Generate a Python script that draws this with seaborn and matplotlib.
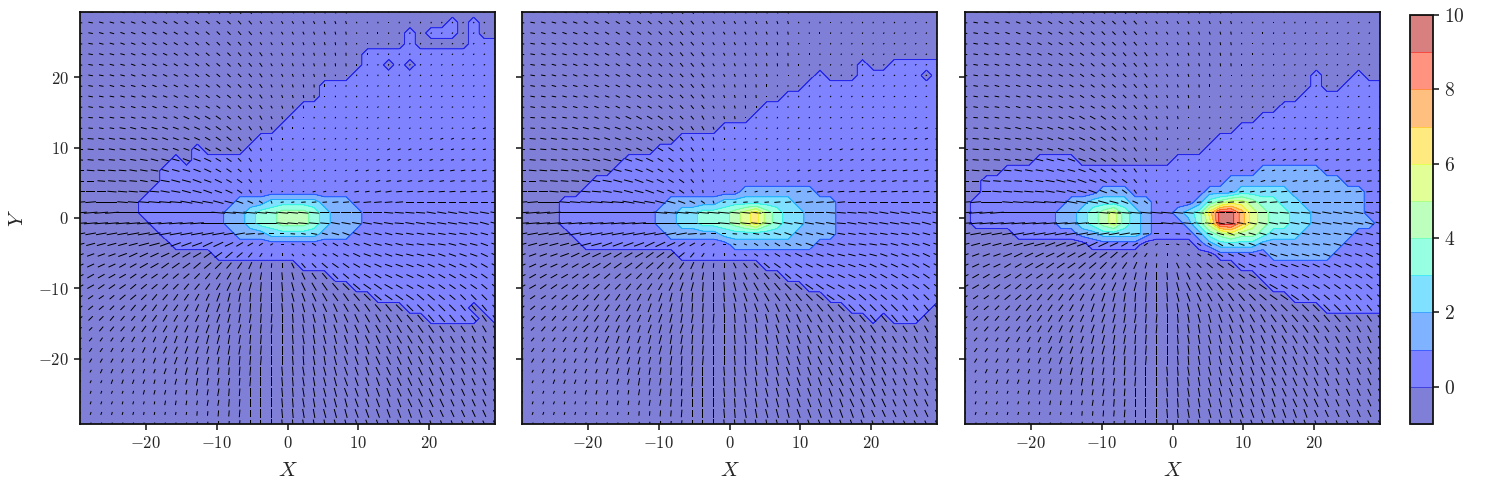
import numpy as np
import matplotlib
matplotlib.use("Agg")
import matplotlib.pyplot as plt
import seaborn as sns

# grid of the field, 40 x 40 cells, top row first
x_nodes = [-29.25 + 1.5 * i for i in range(40)]
y_nodes = [29.25 - 1.5 * i for i in range(40)]

levels = [-1, 0, 1, 2, 3, 4, 5, 6, 7, 8, 9, 10]
axis_ticks = [-20, -10, 0, 10, 20]
axis_labels = ["$-20$", "$-10$", "$0$", "$10$", "$20$"]
cbar_ticks = [0, 2, 4, 6, 8, 10]
cbar_labels = ["$0$", "$2$", "$4$", "$6$", "$8$", "$10$"]

# density: "." is below 0, a digit d means between d and d+1
density_1 = [
    ".......... .......... .......... ..........",
    ".......... .......... .......... .....0.0..",
    ".......... .......... .......... .0.000.0..",
    ".......... .......... .......... .0.....000",
    ".......... .......... .......000 0000000000",
    ".......... .......... .......00. 0.00000000",
    ".......... .......... ......0000 0000000000",
    ".......... .......... ...0000000 0000000000",
    ".......... .......... ...0000000 0000000000",
    ".......... .......... .000000000 0000000000",
    ".......... .......... 0000000000 0000000000",
    ".......... .........0 0000000000 0000000000",
    ".......... .......000 0000000000 0000000000",
    ".......... .0....0000 0000000000 0000000000",
    ".........0 .000000000 0000000000 0000000000",
    "........00 0000000000 0000000000 0000000000",
    "........00 0000000000 0000000000 0000000000",
    ".......000 0000000000 0000000000 0000000000",
    "......0000 0000011122 2221110000 0000000000",
    "......0000 0000112334 4432111000 0000000000",
    ".......000 0000112334 4432111000 0000000000",
    "........00 0000011122 2221110000 0000000000",
    ".........0 0000000000 0000000000 0000000000",
    ".......... ...0000000 0000000000 0000000000",
    ".......... .......... .000000000 0000000000",
    ".......... .......... ....000000 0000000000",
    ".......... .......... ......0000 0000000000",
    ".......... .......... ........00 0000000000",
    ".......... .......... .......... .000000.00",
    ".......... .......... .......... ...00000.0",
    ".......... .......... .......... ..........",
    ".......... .......... .......... ..........",
    ".......... .......... .......... ..........",
    ".......... .......... .......... ..........",
    ".......... .......... .......... ..........",
    ".......... .......... .......... ..........",
    ".......... .......... .......... ..........",
    ".......... .......... .......... ..........",
    ".......... .......... .......... ..........",
    ".......... .......... .......... ..........",
]
density_2 = [
    ".......... .......... .......... ..........",
    ".......... .......... .......... ..........",
    ".......... .......... .......... ..........",
    ".......... .......... .......... ..........",
    ".......... .......... .......... ..........",
    ".......... .......... .......... ..0..00000",
    ".......... .......... ........0. ..000000.0",
    ".......... .......... .......000 0000000000",
    ".......... .......... .....00000 0000000000",
    ".......... .......... ...0000000 0000000000",
    ".......... .......... ..00000000 0000000000",
    ".......... .........0 0000000000 0000000000",
    ".......... .....00000 0000000000 0000000000",
    ".......... ...0000000 0000000000 0000000000",
    ".......... 0000000000 0000000000 0000000000",
    ".........0 0000000000 0000000000 0000000000",
    ".......000 0000000000 0000000000 0000000000",
    "......0000 0000000000 0111111100 0000000000",
    "....000000 0000111112 2222221111 0000000000",
    "....000000 0001122333 4564322111 0000000000",
    "....000000 0001122333 4564322111 0000000000",
    ".....00000 0000111112 2222221111 0000000000",
    "......0000 0000000000 1111111100 0000000000",
    ".......... .....00000 0000000000 0000000000",
    ".......... .......... ...0000000 0000000000",
    ".......... .......... .....00000 0000000000",
    ".......... .......... .......000 0000000000",
    ".......... .......... .........0 0000000000",
    ".......... .......... .......... .00000000.",
    ".......... .......... .......... ...0.000..",
    ".......... .......... .......... ..........",
    ".......... .......... .......... ..........",
    ".......... .......... .......... ..........",
    ".......... .......... .......... ..........",
    ".......... .......... .......... ..........",
    ".......... .......... .......... ..........",
    ".......... .......... .......... ..........",
    ".......... .......... .......... ..........",
    ".......... .......... .......... ..........",
    ".......... .......... .......... ..........",
]
density_3 = [
    ".......... .......... .......... ..........",
    ".......... .......... .......... ..........",
    ".......... .......... .......... ..........",
    ".......... .......... .......... ..........",
    ".......... .......... .......... ..........",
    ".......... .......... .......... ..........",
    ".......... .......... .......... ...0...0..",
    ".......... .......... .......... ...0..0000",
    ".......... .......... .......... ..00000000",
    ".......... .......... .......... 0000000000",
    ".......... .......... ........00 0000000000",
    ".......... .......... ......0000 0000000000",
    ".......... .......... ....000000 0000000000",
    ".......... .......... ...0000000 0000000000",
    ".......000 0......... 0000000000 0000000000",
    "....000000 0000000000 0000000011 1111000000",
    "..00000000 0000000000 0000011111 1111110000",
    "..00000000 0001110000 0001112222 2111111100",
    ".000000000 1122221100 0013455433 2211111100",
    ".000000001 1234532100 1236997543 3221111100",
    ".000000001 1234532100 0135997543 3221111110",
    ".....00000 0112222100 0013454432 2211111000",
    ".......... ..00000... ..01222211 1111110000",
    ".......... .......... ....000001 1111100000",
    ".......... .......... ......0000 0000000000",
    ".......... .......... ........00 0000000000",
    ".......... .......... .........0 0000000000",
    ".......... .......... .......... .000000000",
    ".......... .......... .......... ....000000",
    ".......... .......... .......... ..........",
    ".......... .......... .......... ..........",
    ".......... .......... .......... ..........",
    ".......... .......... .......... ..........",
    ".......... .......... .......... ..........",
    ".......... .......... .......... ..........",
    ".......... .......... .......... ..........",
    ".......... .......... .......... ..........",
    ".......... .......... .......... ..........",
    ".......... .......... .......... ..........",
    ".......... .......... .......... ..........",
]

# arrow direction in steps of 5 degrees, written base 36 (0 = flat, i = upright, z = 175)
arrow_angle = [
    "yyxxwwvvuu ttssrqqppo onnmmllkji hgfedcbaa9",
    "yyxxwwvvuu ttssrqqppo onnmmllkji hgfedcbaa9",
    "yyxxwwvvuu ttsrrqqpoo nnmmlkkjih gfedcbaa99",
    "yyxxwwvvuu tssrrqqpon nmmlkkjihg fedcba9988",
    "yyxxxwwvvu ttssrqqpon mmllkjjihg fedcba9887",
    "yyyxxwwvvu utssrqqpon mmlkjjihgf edba998776",
    "yyyxxwwwvv uttsrrqpon mllkjihgfe dcb9887766",
    "yyyxxxwwvv uutssrqpnm lkjihgfedc ba98776655",
    "zyyyxxwwwv vuttsrqpnm lkjihgfedc a987766554",
    "zyyyxxxwwv vuutsrqpom ljihgfeca9 8776655544",
    "zzyyyxxwwv vuutsrqonl kihgedba98 7766554443",
    "zzyyyxxxww vvutsrpomk ihgfdca987 6655444433",
    "zzyyyyxxww wvutsqpnli hfedba9876 5544443333",
    "zzzyyyxxxw wvuutrpnkh fdca987655 4444333322",
    "zzzzyyyxxx wwvutrpnjg ca98765544 4333322222",
    "0zzzzyyyxx xwvutspnhd a876554433 3322222222",
    "00zzzzyyyx xwwvutqng9 7654433332 2222221111",
    "000zzzzzyy xxwwvtpkd6 4433222222 1111111111",
    "1100zzzzzz yyyxxwvtm2 2111111111 1000000000",
    "1111000000 000zzzzzzz zzz000000z zzzyyyyyyy",
    "1111111111 110000000z zzzzyyyyyy zyyyyyyyxx",
    "2222222222 2222221100 zyyxxwwxxx yyyyyyyxxx",
    "3333333344 4455566770 wvutuvwwxx xyyyyxxxww",
    "4444455556 667788abfi qstuuvvwww xxxxwwwwvv",
    "5555666677 7889abdfhi nqrsttuvvw wwwvvvvuuu",
    "5666677788 89abcdfgij lnpqrstuuv vvvuuuuutt",
    "6677788899 aabcdefhij lnopqrsttu uuuuttttss",
    "7778889aab bcdefghhij lmnoppqrst ttssssrrrr",
    "88899aabbb cdeefghhij klmnnoppqq rrrrrrqqqq",
    "899aaabbcc cdeefgghhi jkllmnnoop pqqqqqqqpp",
    "99aaabbccd deefffghhi jkklmmnnoo oppppppooo",
    "aabbbccdde eeffgghhii jkkllmmnnn ooooooonnn",
    "bbbcccdddd eeffgghhii jjkllmmmnn nnoooooooo",
    "ccccdddeee effgghhhii jjkklmmmnn nnnnoooooo",
    "ccddddeeef ffgghhhiij jkkllmmmnn nnnnnnnnnn",
    "dddeeeefff fgggghhiij jkkllmmmmn nnnnnnnnnn",
    "deeeeffffg gggghhiiij jkkllmmmmm nnnnnnnnnn",
    "eeeefffggg gggghhiiij jkklllmmmm mnnnnnnnnn",
    "eeefffgggg ghhhhhiiij jkklllmmmm mmmnnnnnnn",
    "eefffggggg ghhhhhiiij jkkklllmmm mmmmmmnnnn",
]
# arrow length, one digit per arrow
arrow_length = [
    "3333333333 3333333222 2222221111 1111111111",
    "3333333333 3333333222 2222221111 1111111111",
    "3333333333 3333333222 2222221111 1111111111",
    "3333333333 3333333222 2222221111 1111111111",
    "3333333333 3333333322 2222221111 1111111111",
    "3333333333 3333333322 2222221111 1111111111",
    "3333333333 3333333322 2222111111 1111111111",
    "3333333333 3333333322 2222111111 1111111111",
    "3333333333 3333333322 2221111111 1111111111",
    "3333333333 3333333322 2211111111 1111111111",
    "3333333333 4444333322 2111111111 1111111111",
    "3333444444 4444433322 1111111111 1111111222",
    "4444444444 4444433221 1111111111 1112222222",
    "4444444444 4444433221 1111111112 2222222222",
    "4444445555 5554433211 1111111122 2222222222",
    "5555555555 5554433211 1111112222 2223333333",
    "5555555566 6655443211 1111122233 3333333333",
    "6666666666 6665543211 1122223344 4444444444",
    "7777777888 8877654322 2333444555 5555555555",
    "9999999999 9999999888 7776666666 6666666666",
    "9999999999 9999999888 7776666666 6666666666",
    "7777788888 8888776433 3344555555 5555555555",
    "6666667777 7777654322 2233444555 5555555555",
    "5555666666 6666654322 2233445555 5555555555",
    "5555556666 6666555433 4445555555 5555555555",
    "5555555555 5555555555 5555555555 5555555555",
    "5555555555 5555666666 6666666666 5555555555",
    "4444555555 5556666666 6666666666 6666555555",
    "4444455555 5566666666 6666666666 6666665555",
    "4444445555 5556666666 6666666666 6666665555",
    "3344445555 5566666666 6666666666 6666555555",
    "3333444455 5566666666 6666666666 6666555555",
    "3333334455 5556666666 6666666666 6666555555",
    "3333333445 5555666666 6666666666 6666555555",
    "2233333344 5555566666 6666666666 6666655555",
    "2223333334 4555556666 6666666666 6666655555",
    "2222223333 3445556666 6666666666 6666555555",
    "2222222233 3344555666 6666666666 6666655555",
    "2222222222 2334455666 6666666666 6665555555",
    "2222222222 2334455566 6666666666 6665555555",
]


def read_table(rows, decode):
    table = []
    for row in rows:
        row = row.replace(" ", "")
        row = (row + row[-1] * 40)[:40]
        table.append([decode(c) for c in row])
    return np.array(table, dtype=float)


def density_value(c):
    return -0.5 if c == "." else int(c) + 0.5


sns.set_style("ticks")
plt.rcParams["font.family"] = "serif"
plt.rcParams["font.serif"] = ["cmr10", "DejaVu Serif"]
plt.rcParams["mathtext.fontset"] = "cm"

theta = np.deg2rad(read_table(arrow_angle, lambda c: int(c, 36) * 5))
size = read_table(arrow_length, int)
u = size * np.cos(theta)
v = size * np.sin(theta)

fig = plt.figure(figsize=(15, 4.8), dpi=100)
lefts = [80, 522, 965]

for i, rows in enumerate([density_1, density_2, density_3]):
    ax = fig.add_axes([lefts[i] / 1500, 56 / 480, 415 / 1500, 412 / 480])
    z = read_table(rows, density_value)
    filled = ax.contourf(x_nodes, y_nodes, z, levels=levels, cmap="jet", alpha=0.5)
    lines = ax.contour(x_nodes, y_nodes, z, levels=levels, cmap="jet", alpha=0.5, linewidths=0.7)
    ax.quiver(x_nodes, y_nodes, u, v, pivot="mid", units="inches", angles="uv",
              scale_units="inches", scale=66, width=0.01,
              headwidth=1, headlength=0, headaxislength=0, minlength=0, color="k")
    ax.set_xlim(-29.25, 29.25)
    ax.set_ylim(-29.25, 29.25)
    ax.set_xticks(axis_ticks, axis_labels)
    if i == 0:
        ax.set_yticks(axis_ticks, axis_labels)
        ax.set_ylabel("$Y$", fontsize=15, labelpad=8)
    else:
        ax.set_yticks(axis_ticks, [])
    ax.set_xlabel("$X$", fontsize=15, labelpad=8)
    ax.tick_params(length=4.5, width=1.1, labelsize=12, color="#111111")
    for side in ax.spines.values():
        side.set_linewidth(1.3)
        side.set_color("#111111")

cax = fig.add_axes([1410 / 1500, 56 / 480, 23 / 1500, 409 / 480])
cbar = fig.colorbar(filled, cax=cax)
cbar.add_lines(lines)
cbar.set_ticks(cbar_ticks, labels=cbar_labels)
cbar.ax.tick_params(length=4.5, width=1.1, labelsize=14, color="#111111")
cbar.outline.set_linewidth(1.3)
cbar.outline.set_edgecolor("#111111")

fig.savefig("out.png", dpi=100)
